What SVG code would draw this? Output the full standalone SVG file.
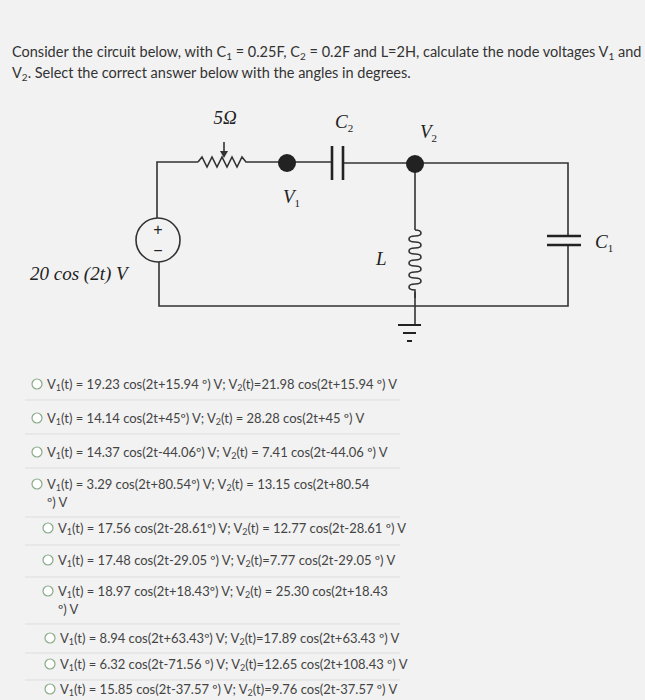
<svg xmlns="http://www.w3.org/2000/svg" width="645" height="700" viewBox="0 0 645 700">
<style>
.t{font-family:"Lato","Liberation Sans",sans-serif;font-size:13px;fill:#444}
.h{font-family:"Lato","Liberation Sans",sans-serif;font-size:14.5px;fill:#333}
.m{font-family:"Liberation Serif",serif;font-style:italic;font-size:19px;fill:#222}
.w{stroke:#333;stroke-width:1.6;fill:none}
.r{fill:#fff;stroke:#8a8;stroke-width:1.2}
.sep{stroke:#ddd;stroke-width:1}
</style>
<rect width="645" height="700" fill="#f2f2f2"/>
<text class="h" x="12" y="57">Consider the circuit below, with C<tspan font-size="10" dy="3">1</tspan><tspan dy="-3"> = 0.25F, C</tspan><tspan font-size="10" dy="3">2</tspan><tspan dy="-3"> = 0.2F and L=2H, calculate the node voltages V</tspan><tspan font-size="10" dy="3">1</tspan><tspan dy="-3"> and</tspan></text>
<text class="h" x="12" y="78">V<tspan font-size="10" dy="3">2</tspan><tspan dy="-3">. Select the correct answer below with the angles in degrees.</tspan></text>
<g id="connectors" class="w">
<path d="M157 218 V162 H198 M250 162 H332 M343 163 H568 V236 M568 245 V306 H159 V262"/>
<path d="M415 165 V230 M415 292 V325"/>
</g>
<g id="source"><circle cx="158" cy="240" r="22" class="w"/><text x="158" y="235" text-anchor="middle" font-family="Liberation Sans" font-size="16" fill="#222">+</text><text x="158" y="256" text-anchor="middle" font-family="Liberation Sans" font-size="16" fill="#222">−</text><text class="m" x="30" y="280" font-style="normal">20 cos (2<tspan font-style="italic">t</tspan>) <tspan font-style="italic">V</tspan></text></g>
<g id="resistor"><path class="w" d="M198 162 l4 -5 l5 10 l5 -10 l5 10 l5 -10 l5 10 l5 -10 l5 10 l5 -10 l4 5 h4"/><path class="w" d="M224 142 V156"/><path d="M220 151 L224 158 L228 151 Z" fill="#333"/><text class="m" x="225" y="124" text-anchor="middle" font-style="normal">5Ω</text></g>
<g id="V1"><circle cx="287" cy="163" r="9" fill="#222"/><text class="m" x="283" y="203">V<tspan font-size="11" dy="4" font-style="normal">1</tspan></text></g>
<g id="C2"><path d="M332 146 V180 M343 146 V180" stroke="#222" stroke-width="2.6"/><text class="m" x="335" y="128">C<tspan font-size="11" dy="4" font-style="normal">2</tspan></text></g>
<g id="V2"><circle cx="415" cy="164" r="9" fill="#222"/><text class="m" x="420" y="138">V<tspan font-size="11" dy="4" font-style="normal">2</tspan></text></g>
<g id="L"><path class="w" d="M415 230 c8 0 8 6 0 6 c-8 0 -8 6 0 6 c8 0 8 6 0 6 c-8 0 -8 6 0 6 c8 0 8 6 0 6 c-8 0 -8 6 0 6 c8 0 8 6 0 6 c-8 0 -8 6 0 6 c8 0 8 6 0 6 c-8 0 -8 6 0 6 v8"/><text class="m" x="376" y="265">L</text></g>
<g id="ground"><path d="M398 325 H421 M403 333 H416 M407 341 H412" stroke="#222" stroke-width="2"/></g>
<g id="C1"><path d="M547 236 H581 M547 245 H581" stroke="#222" stroke-width="2.6"/><text class="m" x="595" y="248">C<tspan font-size="11" dy="4" font-style="normal">1</tspan></text></g>
<g id="options">
<path class="sep" d="M25 400 H400 M25 434 H400 M25 468 H400 M25 517 H400 M25 545 H400 M25 577 H400 M25 624 H400 M25 653 H400 M25 680 H400"/>
<circle class="r" cx="37" cy="384" r="5"/><text class="t" x="47" y="389">V<tspan font-size="9" dy="2">1</tspan><tspan dy="-2">(t) = 19.23 cos(2t+15.94 º) V; V</tspan><tspan font-size="9" dy="2">2</tspan><tspan dy="-2">(t)=21.98 cos(2t+15.94 º) V</tspan></text>
<circle class="r" cx="37" cy="418" r="5"/><text class="t" x="47" y="423">V<tspan font-size="9" dy="2">1</tspan><tspan dy="-2">(t) = 14.14 cos(2t+45º) V; V</tspan><tspan font-size="9" dy="2">2</tspan><tspan dy="-2">(t) = 28.28 cos(2t+45 º) V</tspan></text>
<circle class="r" cx="37" cy="452" r="5"/><text class="t" x="47" y="457">V<tspan font-size="9" dy="2">1</tspan><tspan dy="-2">(t) = 14.37 cos(2t-44.06º) V; V</tspan><tspan font-size="9" dy="2">2</tspan><tspan dy="-2">(t) = 7.41 cos(2t-44.06 º) V</tspan></text>
<circle class="r" cx="37" cy="484" r="5"/><text class="t" x="47" y="489">V<tspan font-size="9" dy="2">1</tspan><tspan dy="-2">(t) = 3.29 cos(2t+80.54º) V; V</tspan><tspan font-size="9" dy="2">2</tspan><tspan dy="-2">(t) = 13.15 cos(2t+80.54</tspan></text><text class="t" x="47" y="507">º) V</text>
<circle class="r" cx="48" cy="528" r="5"/><text class="t" x="58" y="533">V<tspan font-size="9" dy="2">1</tspan><tspan dy="-2">(t) = 17.56 cos(2t-28.61º) V; V</tspan><tspan font-size="9" dy="2">2</tspan><tspan dy="-2">(t) = 12.77 cos(2t-28.61 º) V</tspan></text>
<circle class="r" cx="48" cy="560" r="5"/><text class="t" x="58" y="565">V<tspan font-size="9" dy="2">1</tspan><tspan dy="-2">(t) = 17.48 cos(2t-29.05 º) V; V</tspan><tspan font-size="9" dy="2">2</tspan><tspan dy="-2">(t)=7.77 cos(2t-29.05 º) V</tspan></text>
<circle class="r" cx="48" cy="591" r="5"/><text class="t" x="58" y="596">V<tspan font-size="9" dy="2">1</tspan><tspan dy="-2">(t) = 18.97 cos(2t+18.43º) V; V</tspan><tspan font-size="9" dy="2">2</tspan><tspan dy="-2">(t) = 25.30 cos(2t+18.43</tspan></text><text class="t" x="58" y="614">º) V</text>
<circle class="r" cx="50" cy="638" r="5"/><text class="t" x="60" y="643">V<tspan font-size="9" dy="2">1</tspan><tspan dy="-2">(t) = 8.94 cos(2t+63.43º) V; V</tspan><tspan font-size="9" dy="2">2</tspan><tspan dy="-2">(t)=17.89 cos(2t+63.43 º) V</tspan></text>
<circle class="r" cx="50" cy="664" r="5"/><text class="t" x="60" y="669">V<tspan font-size="9" dy="2">1</tspan><tspan dy="-2">(t) = 6.32 cos(2t-71.56 º) V; V</tspan><tspan font-size="9" dy="2">2</tspan><tspan dy="-2">(t)=12.65 cos(2t+108.43 º) V</tspan></text>
<circle class="r" cx="50" cy="689" r="5"/><text class="t" x="60" y="694">V<tspan font-size="9" dy="2">1</tspan><tspan dy="-2">(t) = 15.85 cos(2t-37.57 º) V; V</tspan><tspan font-size="9" dy="2">2</tspan><tspan dy="-2">(t)=9.76 cos(2t-37.57 º) V</tspan></text>
</g>
</svg>
